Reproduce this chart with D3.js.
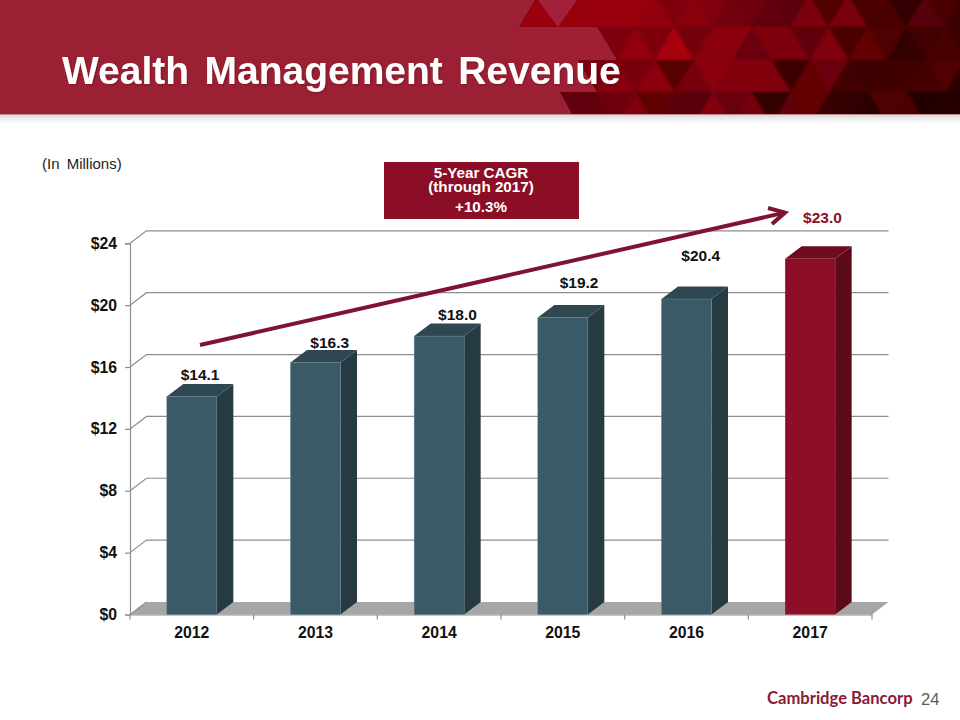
<!DOCTYPE html>
<html><head><meta charset="utf-8">
<style>html,body{margin:0;padding:0;background:#fff}svg{display:block}text{font-family:"Liberation Sans",Arial,sans-serif}</style>
<script src="https://cdn.jsdelivr.net/npm/d3@7"></script></head>
<body><svg id="c" width="960" height="720"></svg>
<script>
const categories = ["2012","2013","2014","2015","2016","2017"];
const revenue = [14.1,16.3,18.0,19.2,20.4,23.0];
const valueLabels = ["$14.1","$16.3","$18.0","$19.2","$20.4","$23.0"];
const yTicks = [0,4,8,12,16,20,24];
const titleText = "Wealth Management Revenue";
const unitText = "(In Millions)";
const cagrLines = ["5-Year CAGR","(through 2017)","+10.3%"];
const labelNudgeX = [0,6,10,8,6,4];
const labelNudgeY = [0.5,2.5,0.5,-13,-21.5,-19];
const headerRow0 = ["#9b0611",null,"#98040e","#98040e","#99040c","#98040c","#93040b","#7f040a","#8a040a","#80040a","#72040a","#6e0408","#640408","#5c0307","#7c0308","#520206","#7a0208","#4c0105","#480105","#320104","#560207","#480205","#3a0104"];
const headerRow1 = ["#7f040a","#92040c","#7e030a","#a8060f","#75030a","#880409","#8a0408","#6a0207","#7f0308","#7c0308","#600207","#800309","#4c0105","#640206","#500105","#300003","#420104","#4a0104","#3c0104"];
const headerRow2 = ["#7a0309","#88040a","#78040a","#8a040b","#560206","#78030a","#8a0409","#82040a","#850308","#820308","#3c0104","#640206","#6a0207","#420104","#3e0104","#400104","#400104","#450104","#500205","#2e0103"];
const headerRow3 = ["#620207","#650207","#6e0309","#800409","#600206","#5a0207","#5a0207","#85040a","#6a0308","#750308","#300003","#5e0207","#640206","#380003","#300003","#2a0003","#500205","#4e0205","#200002","#280002","#200002"];

const svg = d3.select("#c");
const defs = svg.append("defs");
const shadow = defs.append("linearGradient").attr("id","shade").attr("x1",0).attr("x2",0).attr("y1",0).attr("y2",1);
shadow.append("stop").attr("offset","0").attr("stop-color","#dcdcdc");
shadow.append("stop").attr("offset","1").attr("stop-color","#ffffff");
const ts = defs.append("filter").attr("id","ts").attr("x","-5%").attr("y","-20%").attr("width","110%").attr("height","140%");
ts.append("feDropShadow").attr("dx",1).attr("dy",1).attr("stdDeviation",1).attr("flood-color","#000").attr("flood-opacity",.25);
defs.append("filter").attr("id","soft").attr("x","-2%").attr("y","-5%").attr("width","104%").attr("height","110%")
  .append("feGaussianBlur").attr("stdDeviation",1);

// header band
const H = 114;
const cp = defs.append("clipPath").attr("id","hc");
cp.append("rect").attr("width",960).attr("height",H);
const head = svg.append("g").attr("clip-path","url(#hc)");
head.append("rect").attr("width",960).attr("height",H).attr("fill","#5a0208");
const lattice = head.append("g").attr("filter","url(#soft)");
const rowY = [-5,27,60,92,125], step = 38.7;
function rowTris(colors, r, firstApexX, firstUp){
  colors.forEach((col,i)=>{
    const up = (i%2===0)===firstUp;
    const cx = firstApexX + i*step/2;
    const pts = up ? [[cx,rowY[r]],[cx-step/2,rowY[r+1]],[cx+step/2,rowY[r+1]]]
                   : [[cx,rowY[r+1]],[cx-step/2,rowY[r]],[cx+step/2,rowY[r]]];
    if(col) lattice.append("polygon").attr("points",pts.join(" ")).attr("fill",col).attr("stroke",col).attr("stroke-width",.6);
  });
}
rowTris(headerRow0,0,538.5,true);
rowTris(headerRow1,1,616.5,false);
rowTris(headerRow2,2,597.5,false);
rowTris(headerRow3,3,578,false);
// flat red panel left of the lattice
head.append("polygon").attr("fill","#9c2033")
  .attr("points","0,0 535,0 519,27 597,27 617,60 578,60 597,92 560,92 572,114 0,114");
head.append("polygon").attr("fill","#a4203a").attr("points","538,0 577,0 558,27");
head.append("polygon").attr("fill","#a4203a").attr("points","520,27 597,27 617,60 578,60 597,92 520,92").attr("opacity",.4);
svg.append("rect").attr("y",H).attr("width",960).attr("height",1).attr("fill","#b98a92");
svg.append("rect").attr("y",H+1).attr("width",960).attr("height",8).attr("fill","url(#shade)");

svg.append("text").attr("x",62).attr("y",84).attr("fill","#fff").attr("font-weight",700)
  .attr("font-size",39).attr("word-spacing",4.5).attr("filter","url(#ts)").text(titleText);

// chart
const DX = 16.5, DY = 12.5;
const x = d3.scaleBand().domain(categories).range([130,872]);
const y = d3.scaleLinear().domain([0,24]).range([614.5,243.3]);
const barW = 50;
const gridCol = "#8e8e8e";
const g = svg.append("g");

// floor
g.append("polygon").attr("fill","#a6a6a6")
 .attr("points",[[x.range()[0],y(0)],[x.range()[0]+DX,y(0)-DY],[x.range()[1]+DX,y(0)-DY],[x.range()[1],y(0)]].join(" "));

// walls and gridlines
yTicks.forEach(t=>{
  const p = d3.path();
  p.moveTo(130,y(t)); p.lineTo(130+DX,y(t)-DY);
  if(t>0) p.lineTo(872+DX,y(t)-DY);
  g.append("path").attr("d",p.toString()).attr("fill","none").attr("stroke",gridCol).attr("stroke-width",1.2);
});

// axes
const yAxis = d3.axisLeft(y).tickValues(yTicks).tickSize(5).tickPadding(8).tickFormat(d=>"$"+d);
const ya = g.append("g").attr("transform","translate(130,0)").call(yAxis);
ya.selectAll("path,line").attr("stroke",gridCol).attr("stroke-width",1.2);
ya.selectAll("text").attr("font-size",15.8).attr("font-weight",700).attr("fill","#111")
  .attr("font-family",'"Liberation Sans",Arial,sans-serif');
const xAxis = d3.axisBottom(x).tickSize(0).tickPadding(12);
const xa = g.append("g").attr("transform",`translate(0,${y(0)})`).call(xAxis);
xa.selectAll("path").attr("stroke",gridCol).attr("stroke-width",1.2);
xa.selectAll("text").attr("font-size",15.8).attr("font-weight",700).attr("fill","#111")
  .attr("font-family",'"Liberation Sans",Arial,sans-serif');
categories.concat([null]).forEach((c)=>{
  const px = c===null ? x.range()[1] : x(c);
  g.append("line").attr("x1",px).attr("x2",px).attr("y1",y(0)).attr("y2",y(0)+5).attr("stroke",gridCol).attr("stroke-width",1.2);
});

// bars
const styleOf = i => i===categories.length-1
  ? {front:"#8d0f27",side:"#5b0a19",top:"#6e0c1e",edge:"none"}
  : {front:"#3a5a67",side:"#263a42",top:"#2e4751",edge:"#668391"};
categories.forEach((c,i)=>{
  const b = x(c)+(x.bandwidth()-barW)/2, t = y(revenue[i]), z = y(0), s = styleOf(i);
  g.append("polygon").attr("fill",s.side).attr("points",[[b+barW,t],[b+barW+DX,t-DY],[b+barW+DX,z-DY],[b+barW,z]].join(" "));
  g.append("polygon").attr("fill",s.top).attr("points",[[b,t],[b+DX,t-DY],[b+barW+DX,t-DY],[b+barW,t]].join(" "));
  g.append("rect").attr("x",b).attr("y",t).attr("width",barW).attr("height",z-t).attr("fill",s.front).attr("stroke",s.edge).attr("stroke-width",.5);
  g.append("text").attr("x",b+barW/2+DX/2+labelNudgeX[i]).attr("y",t-DY-4+labelNudgeY[i])
    .attr("text-anchor","middle").attr("font-size",15.5).attr("font-weight",700)
    .attr("fill",i===categories.length-1?"#8d0f27":"#111").text(valueLabels[i]);
});

// growth arrow
const arrowCol = "#7f1430";
svg.append("line").attr("x1",200).attr("y1",345).attr("x2",785).attr("y2",212.6).attr("stroke",arrowCol).attr("stroke-width",4);
svg.append("path").attr("d","M768,208 L785,212.6 L772,224").attr("fill","none").attr("stroke",arrowCol).attr("stroke-width",4);

// note box
svg.append("rect").attr("x",384).attr("y",162).attr("width",195).attr("height",57).attr("fill","#8b0e26");
[178,192,212].forEach((by,i)=>svg.append("text").attr("x",481).attr("y",by).attr("text-anchor","middle")
  .attr("fill","#fff").attr("font-weight",700).attr("font-size",15.2).text(cagrLines[i]));

svg.append("text").attr("x",42).attr("y",169).attr("font-size",15).attr("word-spacing",3).attr("fill","#222").text(unitText);

// footer
svg.append("text").attr("x",767).attr("y",704).attr("font-size",16.6).attr("font-weight",700)
  .attr("fill","#8a1a35").style("font-family","Lato,'Open Sans',sans-serif").text("Cambridge Bancorp");
svg.append("text").attr("x",921).attr("y",705).attr("font-size",16.5).attr("fill","#4f5f68").text("24");
</script></body></html>
